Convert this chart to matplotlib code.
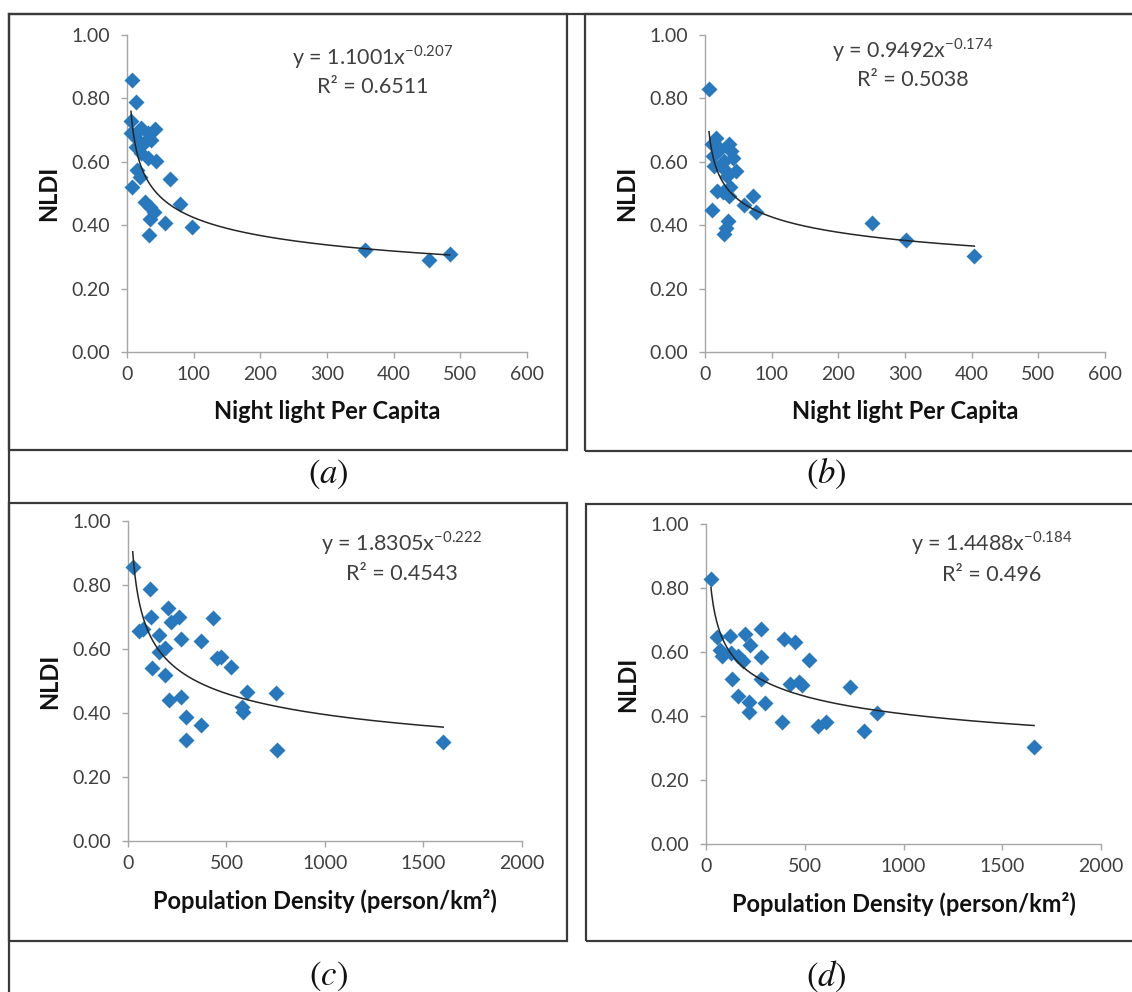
import numpy as np
import matplotlib
matplotlib.use("Agg")
import matplotlib.pyplot as plt
from matplotlib.patches import Rectangle
from matplotlib.lines import Line2D

plt.rcParams['font.family'] = ['Lato', 'DejaVu Sans']

# Panel (a): night light per capita vs NLDI
xs_a = [7, 14, 6, 6, 21, 42, 31, 36, 16, 26, 13, 21, 31, 44, 15, 19, 65, 7, 27, 35, 80, 40, 35, 57, 97, 33, 357, 453, 484]
ys_a = [0.857, 0.788, 0.728, 0.690, 0.706, 0.703, 0.690, 0.669, 0.669, 0.658, 0.646, 0.628, 0.611, 0.603, 0.574, 0.552,
        0.546, 0.522, 0.474, 0.458, 0.466, 0.443, 0.421, 0.407, 0.393, 0.369, 0.322, 0.289, 0.310]
# Panel (b)
xs_b = [6, 17, 36, 10, 22, 39, 12, 28, 42, 14, 28, 46, 33, 38, 18, 27, 36, 72, 59, 76, 11, 35, 32, 29, 251, 301, 404]
ys_b = [0.830, 0.675, 0.655, 0.655, 0.640, 0.633, 0.618, 0.603, 0.612, 0.588, 0.578, 0.571, 0.556, 0.522, 0.508, 0.504,
        0.493, 0.493, 0.463, 0.442, 0.448, 0.412, 0.390, 0.372, 0.407, 0.352, 0.302]
# Panel (c): population density vs NLDI
xs_c = [24, 113, 203, 118, 260, 216, 429, 57, 75, 156, 269, 372, 156, 188, 122, 188, 452, 470, 523, 602, 753, 267, 207,
        292, 372, 579, 583, 292, 756, 1600]
ys_c = [0.855, 0.786, 0.728, 0.699, 0.699, 0.685, 0.696, 0.656, 0.661, 0.645, 0.630, 0.624, 0.592, 0.603, 0.542, 0.518,
        0.571, 0.576, 0.545, 0.467, 0.462, 0.449, 0.441, 0.387, 0.362, 0.420, 0.403, 0.316, 0.285, 0.308]
# Panel (d)
xs_d = [25, 54, 121, 196, 280, 223, 393, 452, 71, 80, 125, 161, 188, 280, 523, 130, 277, 423, 473, 486, 729, 164, 220,
        298, 220, 384, 568, 607, 866, 800, 1661]
ys_d = [0.828, 0.648, 0.650, 0.655, 0.673, 0.621, 0.642, 0.631, 0.607, 0.586, 0.597, 0.586, 0.573, 0.583, 0.575, 0.517,
        0.517, 0.501, 0.506, 0.496, 0.490, 0.464, 0.445, 0.441, 0.412, 0.382, 0.368, 0.381, 0.408, 0.352, 0.304]

# power trendlines y = a * x^b and R^2 as printed on the chart
fit_a = [1.1001, 0.9492, 1.8305, 1.4488]
fit_b = ['-0.207', '-0.174', '-0.222', '-0.184']
r2_text = ['0.6511', '0.5038', '0.4543', '0.496']
xlabels = ['Night light Per Capita', 'Night light Per Capita',
           'Population Density (person/km²)', 'Population Density (person/km²)']
captions = ['a', 'b', 'c', 'd']

W, H = 1132, 992
fig = plt.figure(figsize=(W / 100, H / 100), dpi=100)


def px_rect(l, t, r, b):
    return [l / W, 1 - b / H, (r - l) / W, (b - t) / H]


axes_px = [(127, 35, 527, 352), (705, 35, 1105, 352), (128, 521, 522, 841), (706, 524, 1101, 844)]
frames_px = [(9, 14, 567, 450), (585, 14, 1145, 451), (9, 503, 567, 941), (586, 504, 1145, 941)]
caption_px = [(328, 474), (826, 474), (328, 976), (826, 976)]
eq_pos = [(368, 0.93, 0.836), (312, 0.953, 0.858), (1390, 0.931, 0.834), (1445, 0.94, 0.84)]

data = [(xs_a, ys_a), (xs_b, ys_b), (xs_c, ys_c), (xs_d, ys_d)]
blue = '#2878BD'
grey = '#A6A6A6'
dark = '#404040'

for i in range(4):
    ax = fig.add_axes(px_rect(*axes_px[i]))
    xs, ys = data[i]
    a, b = fit_a[i], float(fit_b[i])
    xmax = 600 if i < 2 else 2000
    xstep = 100 if i < 2 else 500

    ax.scatter(xs, ys, marker='D', s=66, color=blue, linewidths=0, zorder=3, clip_on=False)
    xf = np.linspace(min(xs), max(xs), 400)
    ax.plot(xf, a * xf ** b, color='#262626', lw=1.1, zorder=4)

    ax.set_xlim(0, xmax)
    ax.set_ylim(0, 1)
    ax.set_xticks(np.arange(0, xmax + 1, xstep))
    ax.set_yticks(np.arange(0, 1.01, 0.2))
    ax.set_yticklabels(['%.2f' % v for v in np.arange(0, 1.01, 0.2)])
    for s in ['top', 'right']:
        ax.spines[s].set_visible(False)
    for s in ['left', 'bottom']:
        ax.spines[s].set_color(grey)
        ax.spines[s].set_linewidth(1.0)
    ax.tick_params(axis='both', colors=grey, length=4, width=1.0, labelcolor=dark, labelsize=14)
    ax.tick_params(axis='y', pad=8)
    ax.tick_params(axis='x', pad=6)

    ax.set_xlabel(xlabels[i], fontsize=17, fontweight='bold', color='#111111', labelpad=12)
    ax.set_ylabel('NLDI', fontsize=17, fontweight='bold', color='#111111', labelpad=8)

    ex, ey, ry = eq_pos[i]
    ax.text(ex, ey, 'y = %sx$^{\\mathregular{%s}}$' % (fit_a[i], fit_b[i]),
            ha='center', va='center', fontsize=15.5, color=dark)
    ax.text(ex, ry, 'R² = ' + r2_text[i], ha='center', va='center', fontsize=15.5, color=dark)

    l, t, r, bt = frames_px[i]
    fig.add_artist(Rectangle((l / W, 1 - bt / H), (r - l) / W, (bt - t) / H, transform=fig.transFigure,
                             fill=False, edgecolor='#3A3A3A', lw=1.6))

    cx, cy = caption_px[i]
    fig.text(cx / W, 1 - cy / H, '$(%s)$' % captions[i], ha='center', va='center', fontsize=25,
             math_fontfamily='stix', color='#111111')

# outer table lines
fig.add_artist(Line2D([9 / W, 9 / W], [1 - 14 / H, 0], transform=fig.transFigure, color='#3A3A3A', lw=1.6))
fig.add_artist(Line2D([9 / W, 1], [1 - 14 / H, 1 - 14 / H], transform=fig.transFigure, color='#3A3A3A', lw=1.6))

fig.savefig('out.png', dpi=100, facecolor='white')
